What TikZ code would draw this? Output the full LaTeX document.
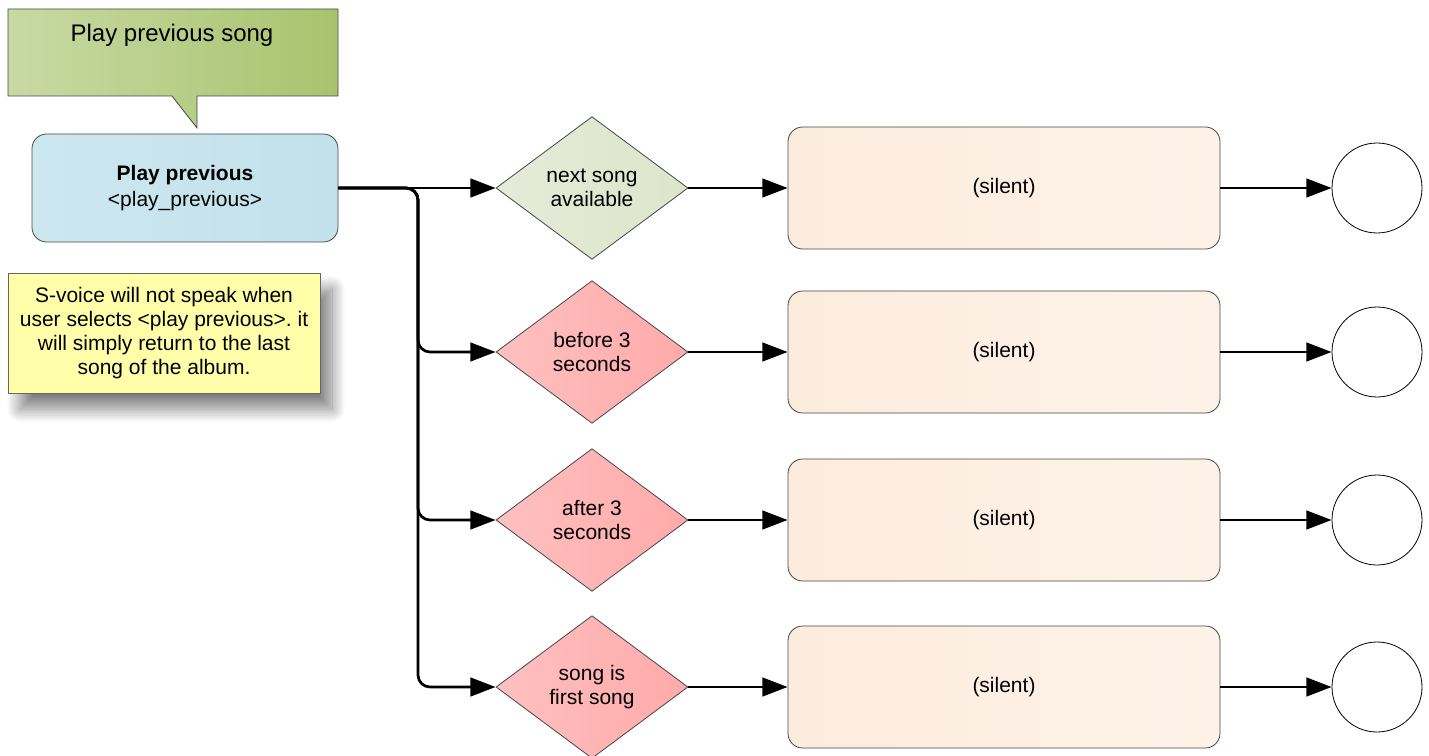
\documentclass[tikz,border=0pt]{standalone}
\usepackage{fontspec}
\setmainfont{Liberation Sans}
\frenchspacing
\usetikzlibrary{shapes.geometric,arrows.meta,shadows.blur}
\definecolor{calloutL}{RGB}{200,218,164}
\definecolor{calloutR}{RGB}{168,195,110}
\definecolor{blueL}{RGB}{205,231,239}
\definecolor{blueR}{RGB}{194,225,235}
\definecolor{noteY}{RGB}{255,255,170}
\definecolor{greenDL}{RGB}{230,235,216}
\definecolor{greenDR}{RGB}{220,229,202}
\definecolor{pinkL}{RGB}{255,192,192}
\definecolor{pinkR}{RGB}{255,170,170}
\definecolor{peachL}{RGB}{252,236,222}
\definecolor{peachR}{RGB}{254,242,232}
\definecolor{bordergray}{RGB}{70,70,70}
\begin{document}
\begin{tikzpicture}[x=0.75pt,y=-0.75pt,
  every node/.style={font=\fontsize{15.75}{18}\selectfont, align=center, text=black},
  arr/.style={line width=2pt, -{Triangle[length=19pt,width=14pt]}},
  decision/.style={diamond, draw=bordergray, line width=0.6pt, minimum width=144pt, minimum height=107pt, inner sep=0pt},
  okdecision/.style={decision, left color=greenDL, right color=greenDR},
  baddecision/.style={decision, left color=pinkL, right color=pinkR},
  action/.style={rectangle, rounded corners=11pt, draw=bordergray, line width=0.6pt, left color=peachL, right color=peachR, minimum width=324pt, minimum height=91.5pt},
  endc/.style={circle, draw=black, line width=0.6pt, minimum size=67.5pt, inner sep=0pt, fill=white}
]
\useasboundingbox (0,0) rectangle (1429,756);

% callout
\path[draw=bordergray, line width=0.6pt, left color=calloutL, right color=calloutR]
  (8,9) -- (338,9) -- (338,96) -- (197,96) -- (197,128) -- (172,96) -- (8,96) -- cycle;
\node[font=\fontsize{18}{21}\selectfont] (title) at (172,35) {Play previous song};

% start
\node[draw=bordergray, line width=0.6pt, rounded corners=11pt, left color=blueL, right color=blueR,
  minimum width=229.5pt, minimum height=81pt] (start) at (185,188)
  {\textbf{Play previous}\\[2pt] <play\_previous>};

% note
\node[draw=black!60, line width=0.6pt, fill=noteY, minimum width=234pt, minimum height=90pt,
  blur shadow={shadow xshift=9pt, shadow yshift=-12pt, shadow blur radius=10pt, shadow blur steps=25, shadow opacity=50}]
  (note) at (164,333)
  {S-voice will not speak when\\ user selects <play previous>. it\\ will simply return to the last\\ song of the album.};

% decisions
\node[okdecision] (d1) at (592,188) {next song\\ available};
\node[baddecision] (d2) at (592,352) {before 3\\ seconds};
\node[baddecision] (d3) at (592,520) {after 3\\ seconds};
\node[baddecision] (d4) at (592,687) {song is\\ first song};

% actions
\node[action] (a1) at (1004,188) {(silent)};
\node[action] (a2) at (1004,352) {(silent)};
\node[action] (a3) at (1004,520) {(silent)};
\node[action] (a4) at (1004,687) {(silent)};

% ends
\node[endc] (e1) at (1377,188) {};
\node[endc] (e2) at (1377,352) {};
\node[endc] (e3) at (1377,520) {};
\node[endc] (e4) at (1377,687) {};

% connectors
\coordinate (br) at (418,188);
\draw[arr] (start.east) -- (d1.west);
\draw[arr, rounded corners=9pt] (start.east) -- (br) |- (d2.west);
\draw[arr, rounded corners=9pt] (start.east) -- (br) |- (d3.west);
\draw[arr, rounded corners=9pt] (start.east) -- (br) |- (d4.west);
\foreach \i in {1,2,3,4}{
  \draw[arr] (d\i.east) -- (a\i.west);
  \draw[arr] (a\i.east) -- (e\i.west);
}
\end{tikzpicture}
\end{document}
